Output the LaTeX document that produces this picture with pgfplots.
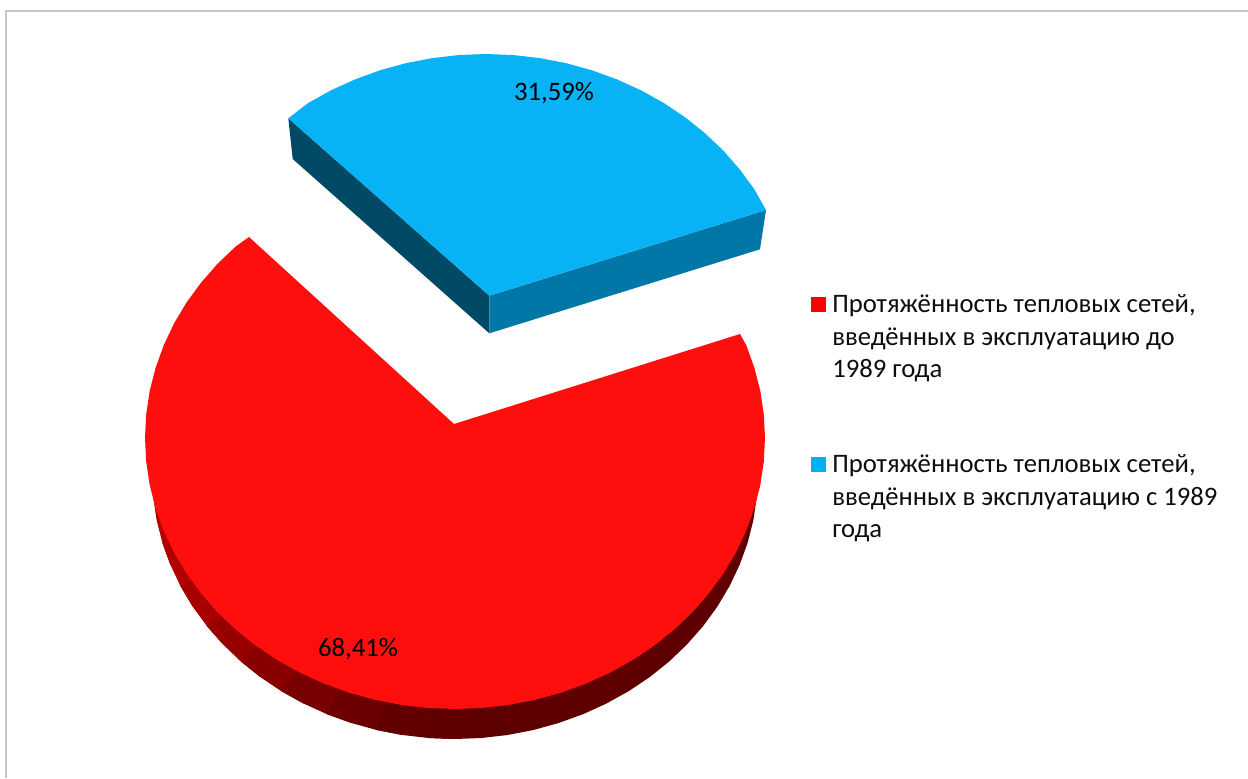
\documentclass[border=0pt]{standalone}
\usepackage{fontspec}
\setmainfont{Carlito}
\usepackage{pgfplots}
\pgfplotsset{compat=1.18}
\definecolor{redTop}{HTML}{FF0E0E}
\definecolor{rimA}{HTML}{B80000}
\definecolor{rimB}{HTML}{B00000}
\definecolor{rimC}{HTML}{A60000}
\definecolor{rimD}{HTML}{980000}
\definecolor{rimE}{HTML}{880000}
\definecolor{rimF}{HTML}{780000}
\definecolor{rimG}{HTML}{6C0000}
\definecolor{rimH}{HTML}{620000}
\definecolor{rimI}{HTML}{5F0000}
\definecolor{blueTop}{HTML}{07B3F5}
\definecolor{blueKey}{HTML}{00B0F0}
\definecolor{blueLeft}{HTML}{004A66}
\definecolor{blueRight}{HTML}{0077A6}
\definecolor{frameGrey}{HTML}{C8C8C8}
\tikzset{
  legtext/.style={anchor=base west, inner sep=0pt, font=\fontsize{20pt}{20pt}\selectfont, text=black!95},
  vallabel/.style={anchor=base, inner sep=0pt, font=\fontsize{20pt}{20pt}\selectfont, text=black},
}
\begin{document}
\begin{tikzpicture}
\useasboundingbox (0,0) rectangle (936pt,583.5pt);
\begin{axis}[
  at={(0,0)}, anchor=south west,
  scale only axis, width=936pt, height=583.5pt,
  xmin=0, xmax=1248, ymin=0, ymax=778, y dir=reverse,
  hide axis, clip=false, no markers,
]
% sheet frame
\addplot[frameGrey, line width=1.5pt] coordinates {(6,778) (6,11) (1248,11)};

% red slice: rim, stepping darker from left to right
\addplot[draw=none, fill=rimA] coordinates {(455,474) (152,474) (153.2,497.1) (156.6,520) (162.3,542.6) (170.3,564.6)} --cycle;
\addplot[draw=none, fill=rimB] coordinates {(455,474) (162.3,542.6) (170.3,564.6) (180.4,586) (192.6,606.5)} --cycle;
\addplot[draw=none, fill=rimC] coordinates {(455,474) (180.4,586) (192.6,606.5) (206.8,626) (222.9,644.3)} --cycle;
\addplot[draw=none, fill=rimD] coordinates {(455,474) (206.8,626) (222.9,644.3) (240.7,661.4) (260.2,677)} --cycle;
\addplot[draw=none, fill=rimE] coordinates {(455,474) (240.7,661.4) (260.2,677) (281.2,691.1) (303.5,703.5)} --cycle;
\addplot[draw=none, fill=rimF] coordinates {(455,474) (281.2,691.1) (303.5,703.5) (327,714.2) (351.4,723)} --cycle;
\addplot[draw=none, fill=rimG] coordinates {(455,474) (327,714.2) (351.4,723) (376.6,730) (402.4,735)} --cycle;
\addplot[draw=none, fill=rimH] coordinates {(455,474) (376.6,730) (402.4,735) (428.6,738) (455,739)} --cycle;
\addplot[draw=none, fill=rimI] coordinates {
 (758,474) (756.8,497.1) (753.4,520) (747.7,542.6) (739.7,564.6) (729.6,586) (717.4,606.5)
 (703.2,626) (687.1,644.3) (669.3,661.4) (649.8,677) (628.8,691.1) (606.5,703.5) (583,714.2)
 (558.6,723) (533.4,730) (507.6,735) (481.4,738) (455,739) (428.6,738) (455,474)
} --cycle;

% red slice: top face
\addplot[draw=none, fill=redTop] coordinates {
 (454,424) (740,334) (746.3,345.3) (754.4,367.9) (760.3,390.9) (763.8,414.4) (765,438)
 (763.8,461.6) (760.3,485.1) (754.4,508.1) (746.3,530.7) (736,552.5) (723.5,573.5)
 (708.9,593.4) (692.5,612.2) (674.2,629.6) (654.3,645.6) (632.8,660) (610,672.7)
 (586,683.6) (561,692.7) (535.2,699.8) (508.8,704.9) (482,708) (455,709) (428,708)
 (401.2,704.9) (374.8,699.8) (349,692.7) (324,683.6) (300,672.7) (277.2,660)
 (255.7,645.6) (235.8,629.6) (217.5,612.2) (201.1,593.4) (186.5,573.5) (174,552.5)
 (163.7,530.7) (155.6,508.1) (149.7,485.1) (146.2,461.6) (145,438) (146.2,414.4)
 (149.7,390.9) (155.6,367.9) (163.7,345.3) (174,323.5) (186.5,302.5) (201.1,282.6)
 (217.5,263.8) (235.8,246.4) (249,237)
} --cycle;

% blue slice: cut faces
\addplot[draw=none, fill=blueLeft] coordinates {
 (288.3,118.3) (489.3,295.7) (489.3,333.3) (292.7,159)
} --cycle;
\addplot[draw=none, fill=blueRight] coordinates {
 (489.3,295.7) (766,210) (760,249.3) (489.3,333.3)
} --cycle;

% blue slice: top face
\addplot[draw=none, fill=blueTop] coordinates {
 (489.3,295.7) (288.3,118.3) (308.2,103) (331,90.3) (355,79.4) (380,70.3) (405.8,63.2)
 (432.2,58.1) (459,55) (486,54) (513,55) (539.8,58.1) (566.2,63.2) (592,70.3) (617,79.4)
 (641,90.3) (663.8,103) (685.3,117.4) (705.2,133.4) (723.5,150.8) (739.9,169.6)
 (754.5,189.5) (766,210)
} --cycle;

% legend keys
\addplot[draw=none, fill=red] coordinates {(811,297) (826,297) (826,312) (811,312)} --cycle;
\addplot[draw=none, fill=blueKey] coordinates {(811,457) (826,457) (826,472) (811,472)} --cycle;

% legend text
\node[legtext] at (axis cs:832,312) {Протяжённость тепловых сетей,};
\node[legtext] at (axis cs:832,345) {введённых в эксплуатацию до};
\node[legtext] at (axis cs:832,377) {1989 года};
\node[legtext] at (axis cs:832,472) {Протяжённость тепловых сетей,};
\node[legtext] at (axis cs:832,505) {введённых в эксплуатацию с 1989};
\node[legtext] at (axis cs:832,537) {года};

% value labels
\node[vallabel] at (axis cs:554,100) {31,59\%};
\node[vallabel] at (axis cs:358,656) {68,41\%};
\end{axis}
\end{tikzpicture}
\end{document}
